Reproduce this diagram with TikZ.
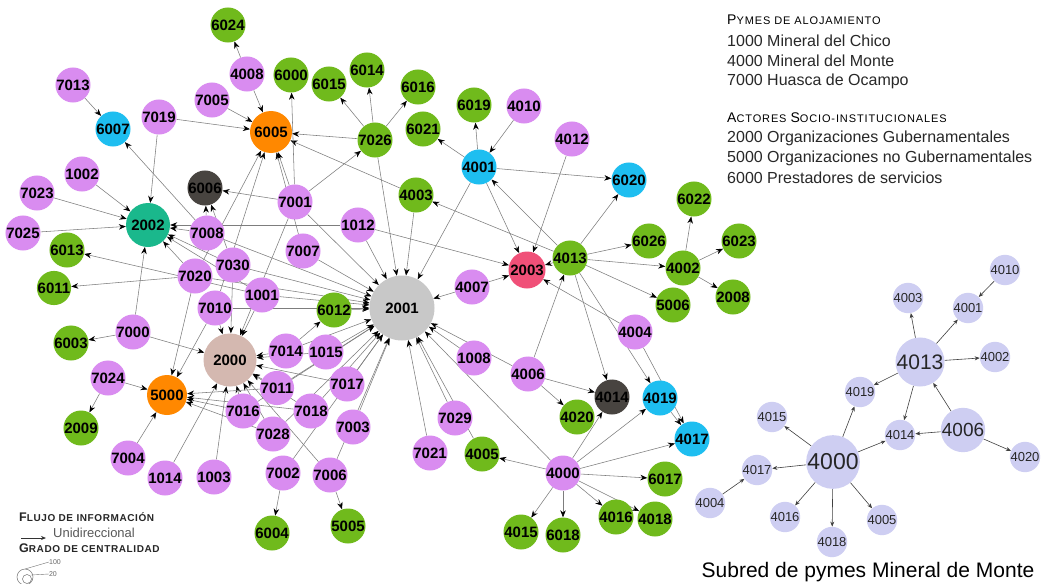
\documentclass[tikz,border=0pt]{standalone}
\usepackage{fontspec}
\setmainfont{Liberation Sans}
\newfontfamily\legsc[LetterSpace=8]{Liberation Sans}
\newfontfamily\legscb[LetterSpace=6]{Liberation Sans Bold}
\usetikzlibrary{arrows.meta,backgrounds,calc}
\definecolor{pkc}{RGB}{217,140,240}
\definecolor{grc}{RGB}{112,186,28}
\definecolor{blc}{RGB}{30,190,240}
\definecolor{orc}{RGB}{255,136,0}
\definecolor{tlc}{RGB}{26,184,140}
\definecolor{dkc}{RGB}{72,68,64}
\definecolor{gyc}{RGB}{200,200,200}
\definecolor{bgc}{RGB}{212,184,176}
\definecolor{rdc}{RGB}{240,80,120}
\definecolor{lvc}{RGB}{206,206,242}
\definecolor{edc}{RGB}{125,125,125}
\definecolor{txc}{RGB}{40,40,40}
\newcommand{\hsc}[2]{{\fontsize{14}{14}\selectfont #1}{\fontsize{11}{11}\selectfont #2}}
\newcommand{\bsc}[2]{{\fontsize{12.5}{12.5}\selectfont #1}{\fontsize{10}{10}\selectfont #2}}
\begin{document}
\begin{tikzpicture}[x=1pt,y=-1pt,
  nd/.style={circle,inner sep=0pt,minimum size=33pt,font=\fontsize{15}{15}\selectfont\bfseries,text=black},
  pk/.style={nd,fill=pkc}, gr/.style={nd,fill=grc}, bl/.style={nd,fill=blc},
  orn/.style={nd,fill=orc}, tl/.style={nd,fill=tlc}, dk/.style={nd,fill=dkc},
  gy/.style={nd,fill=gyc}, bg/.style={nd,fill=bgc}, rd/.style={nd,fill=rdc},
  sn/.style={circle,inner sep=0pt,minimum size=25pt,fill=lvc,font=\fontsize{13}{13}\selectfont,text=black!85},
  ar/.style={-{Stealth[length=7pt,width=5.5pt,black]},draw=edc,line width=0.55pt},
  sar/.style={-{Stealth[length=5pt,width=4pt]},draw=black!75,line width=0.6pt},
  leg/.style={anchor=west,inner sep=0pt,font=\fontsize{16}{16}\selectfont,text=txc}]
\useasboundingbox (0,0) rectangle (1048,583);
% ---------------- main graph nodes
\foreach \n/\x/\y in {7013/73/85,7005/212/100,7019/159/117,4008/247/74,4010/524/106,4012/572/139,1002/82/174,7001/295/202,7023/37/193,7008/207/233,1012/358/225,7025/23/233,7030/233/265,7007/303/251,7020/195/276,1001/262/295,7010/215/308,4007/472/287,7000/133/332,4004/635/332,7014/286/351,1015/326/352,1008/474/358,4006/528/374,7024/108/378,7011/277/388,7017/347/384,7016/243/411,7018/311/411,7003/353/427,7028/273/434,7029/455/418,7004/128/458,1014/165/478,1003/214/477,7021/430/453,7002/283/473,7006/330/475,4000/563/473}
  \node[pk] (n\n) at (\x,\y) {\n};
\foreach \n/\x/\y in {6024/228/25,6000/291/75,6015/329/84,6014/367/70,6016/418/87,6019/474/105,6021/423/129,4003/416/195,6022/694/199,6013/67/250,6026/649/241,6023/739/241,4013/570/258,4002/683/268,6011/54/288,6012/334/310,5006/673/305,2008/733/297,6003/71/343,2009/81/428,4020/577/417,4005/482/454,6017/665/479,4016/616/517,4018/655/519,4015/521/532,6018/563/535,6004/272/533,5005/348/526,7026/375/140}
  \node[gr] (n\n) at (\x,\y) {\n};
\foreach \n/\x/\y in {6007/113/129,4001/479/167,6020/629/180,4019/660/398,4017/692/439}
  \node[bl] (n\n) at (\x,\y) {\n};
\node[orn,minimum size=42pt] (n6005) at (271,132) {6005};
\node[orn,minimum size=40pt] (n5000) at (167,395) {5000};
\node[tl,minimum size=44pt] (n2002) at (148,225) {2002};
\node[dk] (n6006) at (205,188) {6006};
\node[dk,minimum size=35pt] (n4014) at (612,397) {4014};
\node[gy,minimum size=65pt] (n2001) at (402,308) {2001};
\node[bg,minimum size=53pt] (n2000) at (230,360) {2000};
\node[rd,minimum size=37pt] (n2003) at (527,270) {2003};
% ---------------- subgraph nodes
\foreach \n/\x/\y in {4010/1005/270,4003/908/298,4001/968/308,4002/995/357,4019/860/392,4015/772/417,4014/900/435,4020/1025/457,4017/757/470,4004/710/503,4016/785/517,4005/882/520,4018/832/542}
  \node[sn] (s\n) at (\x,\y) {\n};
\node[sn,minimum size=37pt,font=\fontsize{21}{21}\selectfont] (s4013) at (920,362) {4013};
\node[sn,minimum size=31pt,font=\fontsize{19}{19}\selectfont] (s4006) at (963,430) {4006};
\node[sn,minimum size=44pt,font=\fontsize{23}{23}\selectfont] (s4000) at (833,462) {4000};
\node[inner sep=0pt,font=\fontsize{21}{21}\selectfont,text=black] (stitle) at (868,572) {Subred de pymes Mineral de Monte};
% ---------------- legends
\node[leg,font=\legsc\fontsize{11}{11}\selectfont,text=black] (h1) at (727,20) {\hsc{P}{YMES DE ALOJAMIENTO}};
\node[leg] (l1) at (727,41) {1000 Mineral del Chico};
\node[leg] (l2) at (727,61) {4000 Mineral del Monte};
\node[leg] (l3) at (727,81) {7000 Huasca de Ocampo};
\node[leg,font=\legsc\fontsize{11}{11}\selectfont,text=black] (h2) at (727,118) {\hsc{A}{CTORES} \hsc{S}{OCIO-INSTITUCIONALES}};
\node[leg] (l4) at (727,138) {2000 Organizaciones Gubernamentales};
\node[leg] (l5) at (727,158) {5000 Organizaciones no Gubernamentales};
\node[leg] (l6) at (727,178) {6000 Prestadores de servicios};
\node[leg,font=\legscb,text=black!85] (b1) at (19,517) {\bsc{F}{LUJO DE INFORMACIÓN}};
\node[leg,font=\fontsize{13}{13}\selectfont,text=black!65] (b2) at (53,533) {Unidireccional};
\node[leg,font=\legscb,text=black!85] (b3) at (19,548) {\bsc{G}{RADO DE CENTRALIDAD}};
\coordinate (la) at (21,538);
\coordinate (lb) at (46,538);
\draw[-{Stealth[length=5pt,width=4pt]},line width=0.8pt,black!80] (la) -- (lb);
\coordinate (ic) at (25,577);
\coordinate (ic2) at (27,579);
\draw[black!55,line width=0.5pt] (ic) circle (8pt);
\draw[black!55,line width=0.5pt] (ic2) circle (4.5pt);
\node[inner sep=0pt,font=\fontsize{7}{7}\selectfont,text=black!60] (t100) at (55,562) {100};
\node[inner sep=0pt,font=\fontsize{7}{7}\selectfont,text=black!60] (t20) at (53,574) {20};
\coordinate (c1) at (25,569);
\coordinate (c2) at (31,575);
\draw[black!55,line width=0.4pt] (c1) -- (t100.west);
\draw[black!55,line width=0.4pt] (c2) -- (t20.west);
% ---------------- edges
\begin{scope}[on background layer]
\fill[white] (0,0) rectangle (1048,583);
\foreach \a/\b in {4008/6024,4008/6005,7005/6005,7019/6005,7013/6007,7019/2002,7008/6007,7026/6005,4003/6005,7001/6005,7007/6005,7020/6005,7010/6005,
7001/6000,7001/6006,7001/7026,7026/6015,7026/6014,7026/6016,7026/2001,
4001/6019,4001/6021,4010/4001,4001/6020,4001/2001,4001/2003,4012/2003,
4013/6020,4013/4003,4013/4001,4013/6026,4013/4002,4013/5006,4013/4014,4013/4019,4013/2003,
4002/6022,4002/6023,4002/2008,
4006/4013,4004/2003,4004/4017,4006/4014,4006/4020,4006/2001,
4007/2003,4007/2001,1012/2003,1012/2001,1012/2002,4003/2001,
7008/6006,7030/6006,
1002/2002,7023/2002,7025/2002,7000/2002,7008/2002,7030/2002,7020/2002,1001/2002,
7020/6011,1001/6013,
7000/6003,7000/2000,7024/5000,7024/2009,7004/5000,
1014/2000,1003/2000,7016/5000,7016/2000,7028/5000,7011/5000,7018/5000,7010/5000,7020/5000,
7010/2000,7030/2000,1001/2000,7001/2000,7014/2000,1015/2000,
7014/6012,6012/2001,1015/2001,
7011/2001,7017/2001,7018/2001,7003/2001,7002/2001,7006/2001,7029/2001,7021/2001,4005/2001,4000/2001,1008/2001,7028/2001,
7002/6004,7006/5005,7006/2000,7028/2000,7018/2000,7011/2000,7017/2000,
4000/4005,4000/4015,4000/6018,4000/4016,4000/4018,4000/6017,4000/4017,4000/4019,4000/4014,4019/4017,
7001/2001,7007/2001,7008/2001,7030/2001,7020/2001,1001/2001,7010/2001,7014/2001,7016/2001}
  \draw[ar] (n\a) -- (n\b);
\foreach \a/\b in {4013/4003,4013/4001,4013/4002,4013/4019,4013/4014,4006/4013,4006/4014,4006/4020,4010/4001,4000/4019,4000/4014,4000/4015,4000/4017,4000/4016,4000/4018,4000/4005,4004/4017}
  \draw[sar] (s\a) -- (s\b);
\end{scope}
\end{tikzpicture}
\end{document}
